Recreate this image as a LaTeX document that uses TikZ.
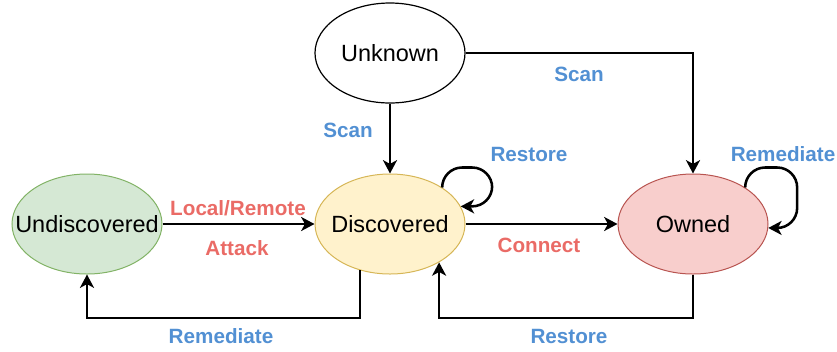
\documentclass[tikz,border=0pt]{standalone}
\usepackage{fontspec}
\setmainfont{Liberation Sans}
\usepackage{xcolor}
\definecolor{lblue}{HTML}{5290D3}
\definecolor{lred}{HTML}{EA6B66}
\definecolor{grfill}{HTML}{D5E8D4}
\definecolor{grline}{HTML}{82B366}
\definecolor{yefill}{HTML}{FFF2CC}
\definecolor{yeline}{HTML}{D6B656}
\definecolor{rdfill}{HTML}{F8CECC}
\definecolor{rdline}{HTML}{B85450}
\usepackage{tikz}
\usetikzlibrary{arrows.meta,positioning,shapes.geometric}
\tikzset{
    state/.style={
    ellipse,minimum width=112.5pt,minimum height=75pt,inner sep=0pt,
    font=\fontsize{17.6}{20}\selectfont
    },
    unk/.style={state,draw=black,line width=0.9pt,fill=white},
    undisc/.style={state,draw=grline,line width=0.75pt,fill=grfill},
    disc/.style={state,draw=yeline,line width=0.75pt,fill=yefill},
    owned/.style={state,draw=rdline,line width=0.75pt,fill=rdfill},
  line/.style={draw, line width=1.9pt, -{Stealth[length=10pt,width=10.5pt,inset=2.8pt]}},
  loop/.style={line, rounded corners=15pt},
  bluelab/.style={text=lblue, font=\bfseries\fontsize{15.5}{18}\selectfont},
  redlab/.style={text=lred, font=\bfseries\fontsize{15.5}{18}\selectfont}
}
% state names may run wider than their ellipse
\newcommand{\stname}[1]{\makebox[0pt]{#1}}

\begin{document}
\begin{tikzpicture}[x=0.75pt,y=-0.75pt]
    \useasboundingbox (0,0) rectangle (837,351);

    \node[undisc] (und) at (87,224) {\stname{Undiscovered}};
    \node[disc,right of=und,node distance=227.25pt] (disc) {\stname{Discovered}};
    \node[owned,right of=disc,node distance=227.25pt] (own) {\stname{Owned}};
    \node[unk,above of=disc,node distance=128.25pt] (unk) {\stname{Unknown}};

    \coordinate (low) at (0,318);

    \begin{scope} [every path/.style=line]
      \path (unk) -- (disc);
      \path (unk) -| (own);
      \path (und) -- (disc);
      \path (disc) -- (own);

      \path[loop] (disc.35) -- ++(0,-20) -- ++(50,0) |- (disc.14);
      \path[loop] (own.35) -- ++(0,-20) -- ++(52,0) |- (own.-3);

      \path (disc.237) |- (und.south |- low) -- (und.south);
      \path (own.south) |- (disc.-38 |- low) -- (disc.-38);
    \end{scope}

    \node[bluelab] (scanl) at (348,130) {Scan};
    \node[bluelab] (scanr) at (579,74) {Scan};
    \node[redlab] (loc) at (238,208) {Local/Remote};
    \node[redlab] (att) at (237,248) {Attack};
    \node[redlab] (conn) at (539,245) {Connect};
    \node[bluelab] (rest) at (529,154) {Restore};
    \node[bluelab] (remt) at (783,154) {Remediate};
    \node[bluelab] (remb) at (221,336) {Remediate};
    \node[bluelab] (resb) at (569,336) {Restore};

  \end{tikzpicture}
\end{document}
